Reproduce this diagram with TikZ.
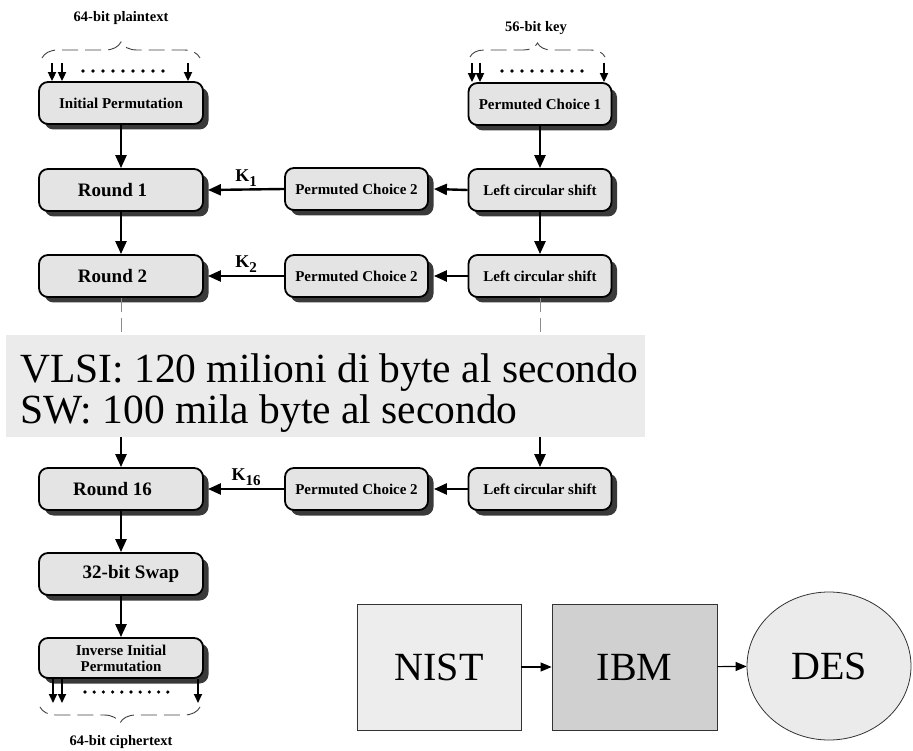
\documentclass[tikz,border=0pt]{standalone}
\usepackage{fontspec}
\setmainfont{Liberation Serif}
\usetikzlibrary{arrows.meta,shadows,shapes.geometric,decorations.pathreplacing}

\definecolor{boxfill}{HTML}{E4E4E4}
\definecolor{shadowgray}{HTML}{3A3A3A}
\definecolor{bannerfill}{HTML}{EBEBEB}
\definecolor{nistfill}{HTML}{EDEDED}
\definecolor{ibmfill}{HTML}{D0D0D0}
\definecolor{desfill}{HTML}{EBEBEB}

\begin{document}
\begin{tikzpicture}[x=1pt,y=-1pt,
  stage/.style={draw=black, line width=1.8pt, fill=boxfill, rounded corners=9pt,
    inner sep=0pt, minimum height=42pt,
    font=\bfseries\fontsize{15}{16}\selectfont,
    drop shadow={shadow xshift=5.5pt, shadow yshift=-5.5pt, fill=shadowgray, opacity=1}},
  wide/.style={minimum width=164pt},
  side/.style={minimum width=143pt},
  bigtext/.style={font=\bfseries\fontsize{19}{21}\selectfont},
  link/.style={line width=2.4pt, -{Triangle[length=13pt,width=11pt]}},
  bitarrow/.style={line width=1.8pt, -{Triangle[length=9pt,width=8pt]}},
  klabel/.style={font=\bfseries\fontsize{18}{18}\selectfont, inner sep=1pt},
  lbl/.style={font=\bfseries\fontsize{14.5}{16}\selectfont, inner sep=0pt},
  bracestyle/.style={decorate, decoration={brace, amplitude=16pt},
    line width=0.9pt, draw=black!75, dash pattern=on 16pt off 7pt},
  gap/.style={draw=black!45, line width=0.8pt, dash pattern=on 14pt off 6pt},
  bannertext/.style={font=\fontsize{41.5}{44}\selectfont, inner sep=0pt},
  plainbox/.style={draw=black!80, line width=0.8pt, minimum height=126pt,
    inner sep=0pt, font=\fontsize{40}{44}\selectfont},
  thinarrow/.style={line width=1.1pt, -{Triangle[length=11pt,width=9pt]}}
]
\useasboundingbox (0,0) rectangle (913,751);

% ---- data path (left column) ----
\node[stage, wide] (ip) at (121,103) {Initial Permutation};
\node[stage, wide, bigtext] (r1) at (121,190) {Round 1\kern17pt};
\node[stage, wide, bigtext] (r2) at (121,276) {Round 2\kern17pt};
\node[stage, wide, bigtext] (r16) at (121,489) {Round 16\kern17pt};
\node[stage, wide, bigtext] (swap) at (121,574) {\kern20pt 32-bit Swap};
\node[stage, wide, minimum height=40pt, align=center] (iip) at (121,658)
  {Inverse Initial\\Permutation};

% ---- key schedule (right column) ----
\node[stage, side] (pc1) at (540,104) {Permuted Choice 1};
\node[stage, side] (lcs1) at (540,190) {Left circular shift};
\node[stage, side] (lcs2) at (540,276) {Left circular shift};
\node[stage, side] (lcs16) at (540,489) {Left circular shift};

\node[stage, side] (pca) at (356.5,189) {Permuted Choice 2};
\node[stage, side] (pcb) at (356.5,276) {Permuted Choice 2};
\node[stage, side] (pcc) at (356.5,489) {Permuted Choice 2};

% ---- throughput banner ----
\node[fill=bannerfill, anchor=north west, minimum width=639pt,
  minimum height=102pt, inner sep=0pt] (banner) at (6,335) {};
\node[bannertext, anchor=base west] (vlsi) at (20,382)
  {VLSI: 120 milioni di byte al secondo};
\node[bannertext, anchor=base west] (sw) at (20,423)
  {SW: 100 mila byte al secondo};

% ---- vertical flow ----
\draw[link] (ip.south) -- (r1.north);
\draw[link] (r1.south) -- (r2.north);
\draw[link] (r16.south) -- (swap.north);
\draw[link] (swap.south) -- (iip.north);
\draw[link] (pc1.south) -- (lcs1.north);
\draw[link] (lcs1.south) -- (lcs2.north);
\draw[gap] (r2.south) -- (r2.south |- banner.north);
\draw[gap] (lcs2.south) -- (lcs2.south |- banner.north);
\draw[link] (banner.south -| r16.north) -- (r16.north);
\draw[link] (banner.south -| lcs16.north) -- (lcs16.north);

% ---- subkeys ----
\draw[link] (pca.west) -- ([xshift=4pt]r1.east)
  node[klabel, midway, above=1pt] {K\raisebox{-5pt}{\fontsize{15}{15}\selectfont 1}};
\draw[link] (pcb.west) -- ([xshift=4pt]r2.east)
  node[klabel, midway, above=1pt] {K\raisebox{-5pt}{\fontsize{15}{15}\selectfont 2}};
\draw[link] (pcc.west) -- ([xshift=4pt]r16.east)
  node[klabel, midway, above=1pt] {K\raisebox{-5pt}{\fontsize{15}{15}\selectfont 16}};
\draw[link] (lcs1.west) -- ([xshift=5pt]pca.east);
\draw[link] (lcs2.west) -- ([xshift=5pt]pcb.east);
\draw[link] (lcs16.west) -- ([xshift=5pt]pcc.east);

% ---- plaintext input ----
\node[lbl] (ptlabel) at (121,18) {64-bit plaintext};
\draw[bracestyle] (42,58) -- (200,58);
\coordinate (pa) at (52,63);
\coordinate (pb) at (62,63);
\coordinate (pc) at (188,63);
\foreach \p in {pa,pb,pc} \draw[bitarrow] (\p) -- (\p |- ip.north);
\foreach \x in {0,...,8} \fill (83+10*\x,71) circle (1.8pt);

% ---- key input ----
\node[lbl] (keylabel) at (536,28) {56-bit key};
\draw[bracestyle, decoration={brace, amplitude=14pt}] (470,57) -- (605,57);
\coordinate (ka) at (472,63);
\coordinate (kb) at (480,63);
\coordinate (kc) at (604,63);
\foreach \p in {ka,kb,kc} \draw[bitarrow] (\p) -- (\p |- pc1.north);
\foreach \x in {0,...,8} \fill (502+10*\x,71) circle (1.8pt);

% ---- ciphertext output ----
\coordinate (ca) at (53,703);
\coordinate (cb) at (62,703);
\coordinate (cc) at (198,703);
\foreach \p in {ca,cb,cc} \draw[bitarrow] (\p |- iip.south) -- (\p);
\foreach \x in {0,...,9} \fill (85+9.2*\x,692) circle (1.8pt);
\draw[bracestyle] (200,707) -- (40,707);
\node[lbl] (ctlabel) at (121,742) {64-bit ciphertext};

% ---- NIST -> IBM -> DES ----
\node[plainbox, fill=nistfill, minimum width=164pt] (nist) at (439,667) {NIST};
\node[plainbox, fill=ibmfill, minimum width=165pt] (ibm) at (634.5,667) {IBM};
\node[ellipse, draw=black!80, line width=0.8pt, fill=desfill, minimum width=164pt,
  minimum height=148pt, inner sep=0pt, font=\fontsize{40}{44}\selectfont]
  (des) at (829,666) {DES};
\draw[thinarrow] (nist) -- (ibm);
\draw[thinarrow] (ibm) -- (des);
\end{tikzpicture}
\end{document}
